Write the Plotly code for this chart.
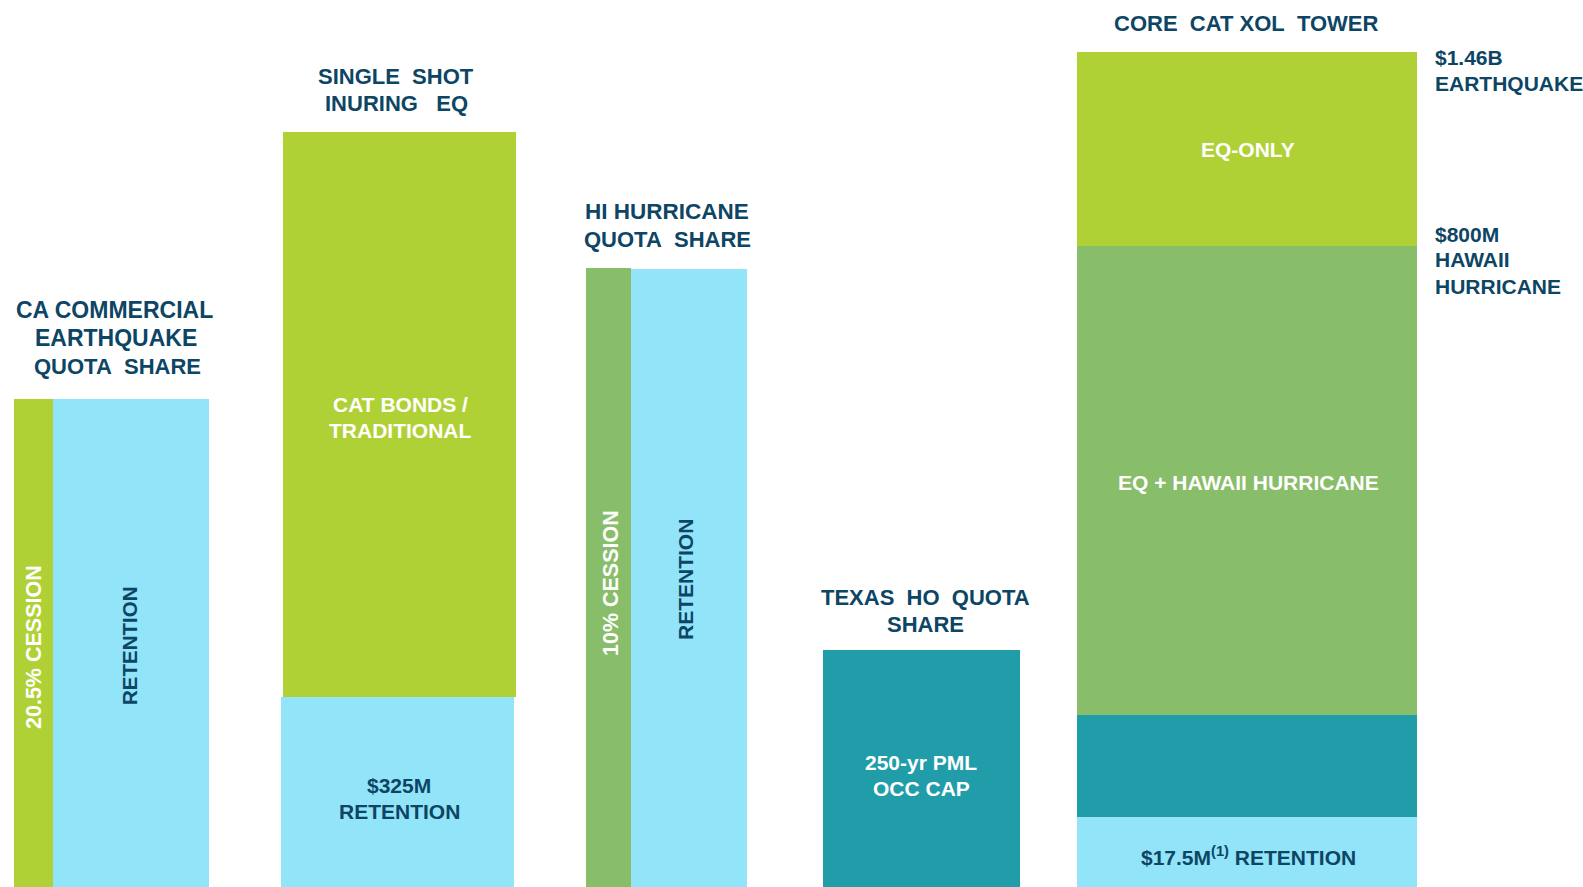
import plotly.graph_objects as go

# ---- data (layer sizes in chart units, stacked from the bottom) ----
programs = ["CA COMMERCIAL EARTHQUAKE QUOTA SHARE", "SINGLE SHOT INURING EQ",
            "HI HURRICANE QUOTA SHARE", "TEXAS HO QUOTA SHARE", "CORE CAT XOL TOWER"]

ca_cession = [488]
ca_retention = [488]
ss_retention = [190]
ss_cat_bonds = [565]
hi_cession = [619]
hi_retention = [618]
tx_occ_cap = [237]
core_retention = [70]
core_layer = [102]
core_eq_hawaii = [469.5]
core_eq_only = [194]

# ---- styling / layout ----
LIME = "#B0D136"
LBLUE = "#92E4F8"
GREEN = "#88BD69"
TEAL = "#219CA9"
NAVY = "#0D4565"
FONT = "Liberation Sans, Arial, sans-serif"

fig = go.Figure()

def seg(xl, xr, base, vals, color, name):
    fig.add_trace(go.Bar(
        x=[(xl + xr) / 2], y=vals, base=[base], width=[xr - xl],
        marker=dict(color=color, line=dict(width=0)), name=name,
        hoverinfo="name+y", showlegend=False))

# CA commercial
seg(14, 52.5, 0, ca_cession, LIME, "20.5% Cession")
seg(52.5, 209, 0, ca_retention, LBLUE, "Retention")
# Single shot inuring
seg(281, 514, 0, ss_retention, LBLUE, "$325M Retention")
seg(283, 516, ss_retention[0], ss_cat_bonds, LIME, "Cat Bonds / Traditional")
# HI hurricane
seg(586, 631, 0, hi_cession, GREEN, "10% Cession")
seg(631, 747, 0, hi_retention, LBLUE, "Retention")
# Texas
seg(823, 1020, 0, tx_occ_cap, TEAL, "250-yr PML Occ Cap")
# Core tower
b = 0
for vals, col, nm in [(core_retention, LBLUE, "$17.5M Retention"),
                      (core_layer, TEAL, "Layer"),
                      (core_eq_hawaii, GREEN, "EQ + Hawaii Hurricane"),
                      (core_eq_only, LIME, "EQ-Only")]:
    seg(1077, 1416.5, b, vals, col, nm)
    b += vals[0]

anns = []
def txt(x, y, t, color=NAVY, size=22, angle=0, xanchor="center"):
    anns.append(dict(x=x, y=887 - y, text=t, showarrow=False, xref="x", yref="y",
                     xanchor=xanchor, yanchor="middle", textangle=angle,
                     font=dict(family=FONT, size=size, color=color, weight="bold")))

NB = "\u00a0"
# titles
txt(114, 310, "CA COMMERCIAL", size=23)
txt(116, 338, "EARTHQUAKE", size=23)
txt(117, 366, "QUOTA" + NB * 2 + "SHARE", size=22)
txt(396, 76, "SINGLE" + NB * 2 + "SHOT")
txt(396, 103, "INURING" + NB * 3 + "EQ")
txt(667, 211, "HI HURRICANE", size=22.5)
txt(667, 239, "QUOTA" + NB * 2 + "SHARE")
txt(925, 597, "TEXAS" + NB * 2 + "HO" + NB * 2 + "QUOTA")
txt(925, 624, "SHARE")
txt(1246, 23, "CORE" + NB * 2 + "CAT XOL" + NB * 2 + "TOWER")
# right side labels
txt(1433, 57, "$1.46B", xanchor="left", size=21)
txt(1433, 83, "EARTHQUAKE", xanchor="left", size=21)
txt(1433, 234, "$800M", xanchor="left", size=21)
txt(1433, 259, "HAWAII", xanchor="left", size=21)
txt(1433, 286, "HURRICANE", xanchor="left", size=21)
# inside labels
txt(34, 647, "20.5% CESSION", color="white", size=21.5, angle=-90)
txt(129, 646, "RETENTION", size=20.5, angle=-90)
txt(400, 404, "CAT BONDS /", color="white", size=21)
txt(400, 430, "TRADITIONAL", color="white", size=21)
txt(399, 785, "$325M", size=21)
txt(399, 811, "RETENTION", size=21)
txt(611, 583, "10% CESSION", color="white", size=21.5, angle=-90)
txt(685, 580, "RETENTION", size=21, angle=-90)
txt(921, 762, "250-yr PML", color="white", size=21)
txt(921, 788, "OCC CAP", color="white", size=21)
txt(1248, 149, "EQ-ONLY", color="white", size=21)
txt(1248, 482, "EQ + HAWAII HURRICANE", color="white", size=21)
txt(1248, 856, "$17.5M<sup>(1)</sup> RETENTION", size=21)

fig.update_layout(
    width=1583, height=887,
    margin=dict(l=0, r=0, t=0, b=0),
    paper_bgcolor="white", plot_bgcolor="white",
    barmode="overlay", bargap=0,
    xaxis=dict(range=[0, 1583], visible=False, fixedrange=True),
    yaxis=dict(range=[0, 887], visible=False, fixedrange=True),
    annotations=anns,
)

fig.write_html("out.html")
